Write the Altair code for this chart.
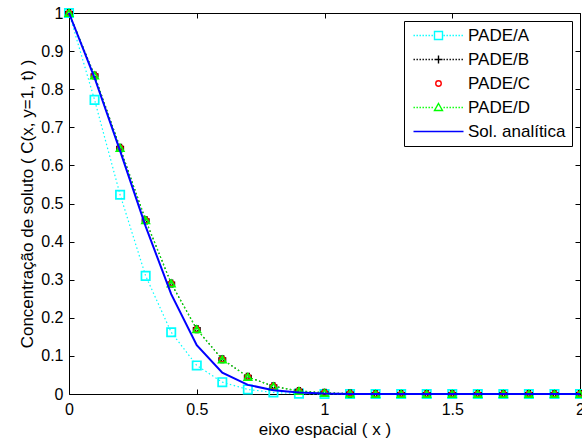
import altair as alt
import pandas as pd

# ---- data ----
x_vals = [0.0, 0.1, 0.2, 0.3, 0.4, 0.5, 0.6, 0.7, 0.8, 0.9, 1.0,
          1.1, 1.2, 1.3, 1.4, 1.5, 1.6, 1.7, 1.8, 1.9, 2.0]
pade_a = [1.0, 0.772, 0.523, 0.31, 0.162, 0.075, 0.031, 0.012, 0.004, 0.001, 0.0,
          0.0, 0.0, 0.0, 0.0, 0.0, 0.0, 0.0, 0.0, 0.0, 0.0]
pade_b = [1.0, 0.836, 0.646, 0.456, 0.29, 0.17, 0.091, 0.045, 0.02, 0.008, 0.003,
          0.001, 0.0, 0.0, 0.0, 0.0, 0.0, 0.0, 0.0, 0.0, 0.0]
pade_c = list(pade_b)
pade_d = list(pade_b)
analitica = [1.0, 0.83, 0.638, 0.44, 0.262, 0.128, 0.056, 0.024, 0.01, 0.004, 0.001,
             0.0, 0.0, 0.0, 0.0, 0.0, 0.0, 0.0, 0.0, 0.0, 0.0]

series_names = ["PADE/A", "PADE/B", "PADE/C", "PADE/D", "Sol. analítica"]
series_colors = ["#00FFFF", "#000000", "#FF0000", "#00FF00", "#0000FF"]
x_ticks = [0, 0.5, 1, 1.5, 2]
y_ticks = [0, 0.1, 0.2, 0.3, 0.4, 0.5, 0.6, 0.7, 0.8, 0.9, 1.0]

rows = []
for name, vals in zip(series_names, [pade_a, pade_b, pade_c, pade_d, analitica]):
    for xv, yv in zip(x_vals, vals):
        rows.append({"x": xv, "y": yv, "serie": name})
df = pd.DataFrame(rows)

# ---- styling ----
W, H = 511, 381
FONT = "Liberation Sans"
FS = 16


def dotted(x0, x1, step=0.6, dash=0.28):
    parts = []
    x = x0
    while x < x1 - 1e-9:
        e = min(x + dash, x1)
        parts.append(f"M{x:.2f},0H{e:.2f}")
        x += step
    return "".join(parts)


m = 4.0  # marker centre in legend symbol units
sq = f"M{m-0.8},-0.8H{m+0.8}V0.8H{m-0.8}Z"
plus = f"M{m-0.8},0H{m+0.8}M{m},-0.8V0.8"
circ = f"M{m-0.55},0A0.55,0.55 0 1,0 {m+0.55},0A0.55,0.55 0 1,0 {m-0.55},0"
tri = f"M{m},-0.8L{m+0.8},0.6H{m-0.8}Z"
legend_shapes = [
    dotted(-1, m - 1.0) + sq + dotted(m + 1.0, 9),
    dotted(-1, m - 1.0) + plus + dotted(m + 1.0, 9),
    circ,
    dotted(-1, m - 1.0) + tri + dotted(m + 1.0, 9),
    "M-1,0H9",
]

color_scale = alt.Scale(domain=series_names, range=series_colors)
xs = alt.Scale(domain=[0, 2], nice=False)
ys = alt.Scale(domain=[0, 1], nice=False)

grid_x = [5, H - 10, 5, 5000]
grid_y = [5, W - 10, 5, 5000]

x_axis = alt.Axis(values=x_ticks, tickCount=30, format="~g", ticks=False, grid=True,
                  gridColor="black", gridOpacity=1, gridWidth=1, gridDash=grid_x,
                  domain=False, labelPadding=7, labelFontSize=FS, labelFont=FONT,
                  labelColor="black", labelOverlap=False, title="eixo espacial ( x )",
                  titleFont=FONT, titleFontSize=17, titleFontWeight="normal",
                  titleColor="black", titlePadding=4, labelFlush=False)
y_axis = alt.Axis(values=y_ticks, tickCount=30, format="~g", ticks=False, grid=True,
                  gridColor="black", gridOpacity=1, gridWidth=1, gridDash=grid_y,
                  domain=False, labelPadding=6, labelFontSize=FS, labelFont=FONT,
                  labelColor="black", labelOverlap=False,
                  title="Concentração de soluto ( C(x, y=1, t) )",
                  titleFont=FONT, titleFontSize=17, titleFontWeight="normal",
                  titleColor="black", titlePadding=4, labelFlush=False)

base = alt.Chart(df)

legend_layer = base.mark_point(opacity=0, filled=False).encode(
    x=alt.X("x:Q", scale=xs, axis=x_axis),
    y=alt.Y("y:Q", scale=ys, axis=y_axis),
    color=alt.Color("serie:N", scale=color_scale, title=None,
                    legend=alt.Legend(orient="none", legendX=335, legendY=8,
                                      fillColor="white", strokeColor="black",
                                      padding=6, symbolSize=100, symbolStrokeWidth=1.4,
                                      symbolOpacity=1, symbolFillColor="transparent",
                                      labelOffset=41, labelFont=FONT, labelFontSize=17,
                                      labelColor="black", rowPadding=6,
                                      labelLimit=200)),
    shape=alt.Shape("serie:N", scale=alt.Scale(domain=series_names, range=legend_shapes),
                    title=None, legend=alt.Legend(orient="none", legendX=335, legendY=8)),
)


def sel(name):
    return alt.datum.serie == name


def line(name, dash):
    props = dict(strokeWidth=1.2, strokeCap="butt")
    if dash:
        props["strokeDash"] = [1.5, 2.5]
    return base.transform_filter(sel(name)).mark_line(**props).encode(
        x="x:Q", y="y:Q",
        color=alt.Color("serie:N", scale=color_scale, legend=None))


def pts(name, shape, size, filled=False):
    return base.transform_filter(sel(name)).mark_point(
        shape=shape, size=size, filled=filled, strokeWidth=1.7, opacity=1).encode(
        x="x:Q", y="y:Q",
        color=alt.Color("serie:N", scale=color_scale, legend=None))


chart = alt.layer(
    legend_layer,
    line("PADE/A", True), pts("PADE/A", "square", 70),
    line("PADE/B", True), pts("PADE/B", "cross", 40),
    pts("PADE/C", "circle", 30),
    line("PADE/D", True), pts("PADE/D", "triangle-up", 55),
    base.transform_filter(sel("Sol. analítica")).mark_line(strokeWidth=2).encode(
        x="x:Q", y="y:Q",
        color=alt.Color("serie:N", scale=color_scale, legend=None)),
).properties(
    width=W, height=H,
    autosize=alt.AutoSizeParams(type="none"),
    padding={"left": 69, "top": 13, "right": 2, "bottom": 49},
    background="white",
).configure_view(stroke="black", strokeWidth=1)

chart.save("out.html", embed_options={"renderer": "svg", "actions": False})
